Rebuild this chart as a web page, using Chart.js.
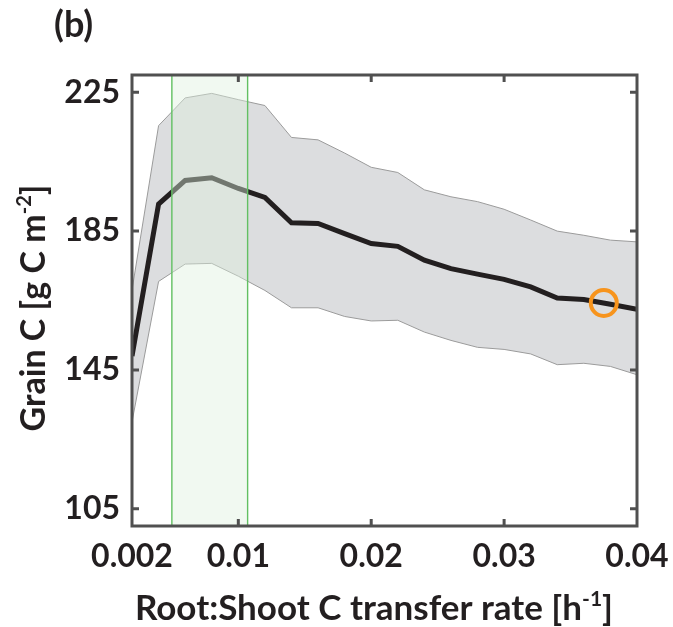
<!DOCTYPE html>
<html>
<head>
<meta charset="utf-8">
<script src="https://cdn.jsdelivr.net/npm/chart.js@4.4.0/dist/chart.umd.min.js"></script>
<style>
  html, body { margin: 0; padding: 0; background: #fff; }
  #wrap { width: 673px; height: 627px; position: relative; }
</style>
</head>
<body>
<div id="wrap"><canvas id="grainChart"></canvas></div>
<script>
/* DATA */
var rates = [0.002, 0.004, 0.006, 0.008, 0.010, 0.012, 0.014, 0.016, 0.018, 0.020,
             0.022, 0.024, 0.026, 0.028, 0.030, 0.032, 0.034, 0.036, 0.038, 0.040];
var meanGrain  = [149.0, 192.8, 199.6, 200.4, 197.3, 194.7, 187.4, 187.2, 184.3, 181.4,
                  180.6, 176.6, 174.2, 172.6, 171.1, 168.9, 165.7, 165.3, 163.9, 162.5];
var upperGrain = [168.0, 215.4, 223.4, 224.7, 222.9, 221.2, 212.0, 211.3, 207.5, 203.4,
                  201.9, 196.9, 194.9, 193.5, 191.3, 188.2, 185.0, 183.8, 182.4, 181.9];
var lowerGrain = [130.0, 170.5, 175.5, 175.7, 172.0, 167.9, 162.9, 162.9, 160.4, 159.1,
                  159.3, 155.9, 153.5, 151.5, 150.9, 149.6, 146.5, 146.9, 146.0, 143.6];
var chosenRate = [0.0375];
var chosenGrain = [164.3];
var optimalRange = [0.005, 0.0107];

var xTickVals = [0.002, 0.01, 0.02, 0.03, 0.04];
var xTickLabels = ["0.002", "0.01", "0.02", "0.03", "0.04"];
var yTickVals = [105, 145, 185, 225];
var yTickLabels = ["105", "145", "185", "225"];

var FONT = "Lato, 'Open Sans', sans-serif";
var TEXT_COLOR = "#231f20";
var AXIS_COLOR = "#505050";

function pts(xs, ys) {
    return xs.map(function(x, i) { return { x: x, y: ys[i] }; });
}

// text with superscript pieces, centered on (0,0) of the current transform
function drawRich(ctx, parts, size) {
    var supSize = Math.round(size * 0.6);
    var total = 0;
    parts.forEach(function(p) {
        ctx.font = "bold " + (p.sup ? supSize : size) + "px " + FONT;
        p.w = ctx.measureText(p.t).width;
        total += p.w;
    });
    var x = -total / 2;
    ctx.textBaseline = "alphabetic";
    ctx.textAlign = "left";
    parts.forEach(function(p) {
        ctx.font = "bold " + (p.sup ? supSize : size) + "px " + FONT;
        ctx.fillText(p.t, x, p.sup ? size * 0.35 - size * 0.42 : size * 0.35);
        x += p.w;
    });
}

var framePlugin = {
    id: "framePlugin",
    afterDatasetsDraw: function(chart) {
        var ctx = chart.ctx, a = chart.chartArea, xs = chart.scales.x;
        var x0 = xs.getPixelForValue(optimalRange[0]);
        var x1 = xs.getPixelForValue(optimalRange[1]);
        ctx.save();
        ctx.fillStyle = "rgba(222,240,222,0.42)";
        ctx.fillRect(x0, a.top, x1 - x0, a.bottom - a.top);
        ctx.strokeStyle = "#62c062";
        ctx.lineWidth = 1.4;
        ctx.beginPath();
        ctx.moveTo(x0, a.top); ctx.lineTo(x0, a.bottom);
        ctx.moveTo(x1, a.top); ctx.lineTo(x1, a.bottom);
        ctx.stroke();
        ctx.restore();
    },
    afterDraw: function(chart) {
        var ctx = chart.ctx, a = chart.chartArea;
        var xs = chart.scales.x, ys = chart.scales.y;
        ctx.save();
        ctx.strokeStyle = AXIS_COLOR;
        ctx.lineWidth = 3;
        ctx.strokeRect(a.left, a.top, a.right - a.left, a.bottom - a.top);
        ctx.beginPath();
        xTickVals.forEach(function(v) {
            var px = xs.getPixelForValue(v);
            if (px <= a.left + 2 || px >= a.right - 2) return;
            ctx.moveTo(px, a.bottom); ctx.lineTo(px, a.bottom - 7);
            ctx.moveTo(px, a.top); ctx.lineTo(px, a.top + 7);
        });
        yTickVals.forEach(function(v) {
            var py = ys.getPixelForValue(v);
            ctx.moveTo(a.left, py); ctx.lineTo(a.left + 7, py);
            ctx.moveTo(a.right, py); ctx.lineTo(a.right - 7, py);
        });
        ctx.stroke();

        ctx.fillStyle = TEXT_COLOR;
        // x title
        ctx.save();
        ctx.translate(374, 608);
        drawRich(ctx, [{ t: "Root:Shoot C transfer rate [h" }, { t: "-1", sup: true }, { t: "]" }], 35);
        ctx.restore();
        // y title
        ctx.save();
        ctx.translate(33, 308);
        ctx.rotate(-Math.PI / 2);
        drawRich(ctx, [{ t: "Grain C [g C m" }, { t: "-2", sup: true }, { t: "]" }], 34);
        ctx.restore();
        // panel label
        ctx.font = "bold 36px " + FONT;
        ctx.textAlign = "left";
        ctx.textBaseline = "alphabetic";
        ctx.fillText("(b)", 54, 37);
        ctx.restore();
    }
};

var ctx = document.getElementById("grainChart").getContext("2d");
var grainChart = new Chart(ctx, {
    type: "line",
    data: {
        datasets: [
            {
                label: "upper",
                data: pts(rates, upperGrain),
                borderColor: "#9b9b9b",
                borderWidth: 1,
                backgroundColor: "#dcdddf",
                fill: 1,
                pointRadius: 0,
                tension: 0,
                order: 4
            },
            {
                label: "lower",
                data: pts(rates, lowerGrain),
                borderColor: "#9b9b9b",
                borderWidth: 1,
                fill: false,
                pointRadius: 0,
                tension: 0,
                order: 3
            },
            {
                label: "mean",
                data: pts(rates, meanGrain),
                borderColor: "#231f20",
                borderWidth: 5,
                fill: false,
                pointRadius: 0,
                tension: 0,
                borderJoinStyle: "miter",
                order: 2
            },
            {
                label: "chosen",
                data: pts(chosenRate, chosenGrain),
                showLine: false,
                pointRadius: 13,
                pointBorderWidth: 4,
                pointBorderColor: "#f7941d",
                pointBackgroundColor: "rgba(0,0,0,0)",
                order: 1
            }
        ]
    },
    options: {
        responsive: true,
        maintainAspectRatio: false,
        animation: false,
        layout: { padding: { left: 0, right: 36, top: 75, bottom: 0 } },
        plugins: {
            legend: { display: false },
            tooltip: { enabled: false }
        },
        scales: {
            x: {
                type: "linear",
                min: 0.002,
                max: 0.04,
                grid: { display: false, drawTicks: false },
                border: { display: false },
                afterBuildTicks: function(scale) {
                    scale.ticks = xTickVals.map(function(v) { return { value: v }; });
                },
                afterFit: function(scale) {
                    scale.height = 101;
                    scale.paddingLeft = 0;
                    scale.paddingRight = 0;
                },
                ticks: {
                    padding: 11,
                    maxRotation: 0,
                    autoSkip: false,
                    color: TEXT_COLOR,
                    font: { family: FONT, size: 32, weight: "bold" },
                    callback: function(v) {
                        var i = xTickVals.indexOf(v);
                        return i >= 0 ? xTickLabels[i] : "";
                    }
                }
            },
            y: {
                min: 100,
                max: 230,
                grid: { display: false, drawTicks: false },
                border: { display: false },
                afterBuildTicks: function(scale) {
                    scale.ticks = yTickVals.map(function(v) { return { value: v }; });
                },
                afterFit: function(scale) {
                    scale.width = 132;
                    scale.paddingTop = 0;
                    scale.paddingBottom = 0;
                },
                ticks: {
                    padding: 12,
                    autoSkip: false,
                    color: TEXT_COLOR,
                    font: { family: FONT, size: 32, weight: "bold" },
                    callback: function(v) {
                        var i = yTickVals.indexOf(v);
                        return i >= 0 ? yTickLabels[i] : "";
                    }
                }
            }
        }
    },
    plugins: [framePlugin]
});
</script>
</body>
</html>
